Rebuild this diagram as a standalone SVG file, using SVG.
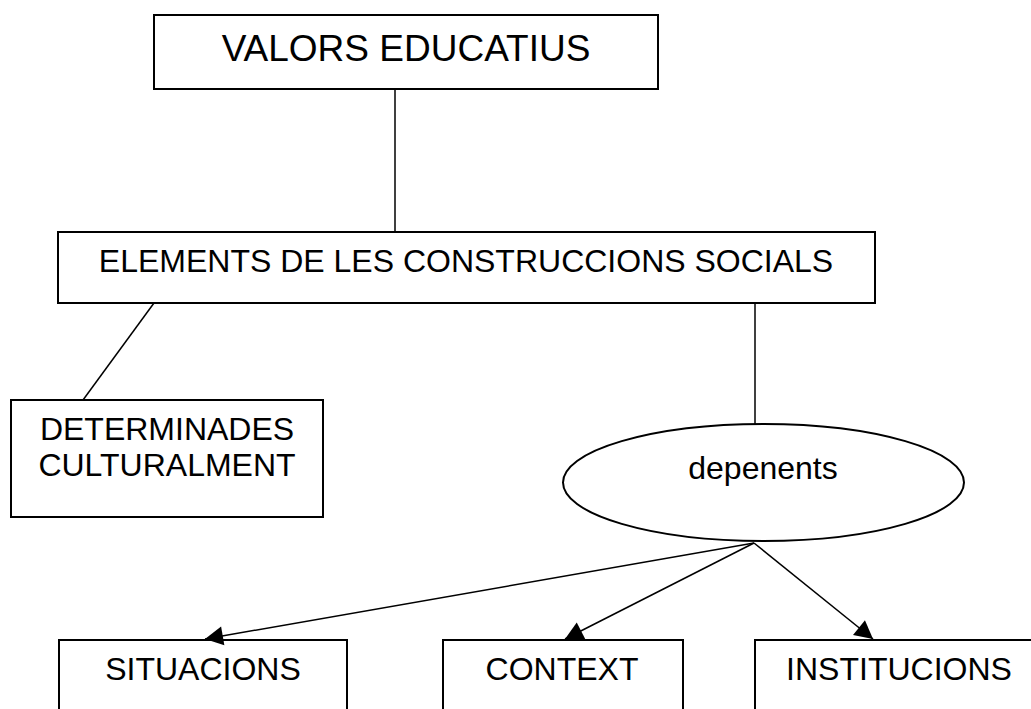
<svg xmlns="http://www.w3.org/2000/svg" width="1031" height="709" viewBox="0 0 1031 709">
<style>
.box{fill:#fff;stroke:#000;stroke-width:2}
.t{font-family:"Liberation Sans",Arial,sans-serif;font-size:32px;fill:#000;text-anchor:middle}
.c{stroke:#000;stroke-width:1.5;fill:none}
</style>
<defs>
<marker id="ah" markerUnits="userSpaceOnUse" markerWidth="20" markerHeight="20" refX="18" refY="10" orient="auto" overflow="visible">
<path d="M0,0.5 L18,10 L0,19.5 z" fill="#000"/>
</marker>
</defs>
<rect width="1031" height="709" fill="#fff"/>
<g id="valors">
<rect class="box" x="154" y="15" width="504" height="74"/>
<text class="t" x="406" y="61" style="font-size:37px">VALORS EDUCATIUS</text>
</g>
<g id="elements">
<rect class="box" x="58" y="232" width="817" height="71"/>
<text class="t" x="466" y="272">ELEMENTS DE LES CONSTRUCCIONS SOCIALS</text>
</g>
<g id="determinades">
<rect class="box" x="11" y="400" width="312" height="117"/>
<text class="t" x="167" y="440">DETERMINADES</text>
<text class="t" x="167" y="476">CULTURALMENT</text>
</g>
<g id="depenents">
<ellipse class="box" cx="763.5" cy="482.5" rx="200.5" ry="58.5"/>
<text class="t" x="763" y="479">depenents</text>
</g>
<g id="situacions">
<rect class="box" x="59" y="640" width="288" height="90"/>
<text class="t" x="203" y="680">SITUACIONS</text>
</g>
<g id="context">
<rect class="box" x="443" y="640" width="240" height="90"/>
<text class="t" x="562" y="680">CONTEXT</text>
</g>
<g id="institucions">
<rect class="box" x="755" y="640" width="290" height="90"/>
<text class="t" x="899" y="680">INSTITUCIONS</text>
</g>
<g id="connectors">
<line class="c" x1="395" y1="89" x2="395" y2="232"/>
<line class="c" x1="154" y1="303" x2="83" y2="400"/>
<line class="c" x1="755" y1="303" x2="755" y2="424"/>
<line class="c" x1="754" y1="543" x2="205" y2="639" marker-end="url(#ah)"/>
<line class="c" x1="754" y1="543" x2="565" y2="639" marker-end="url(#ah)"/>
<line class="c" x1="754" y1="543" x2="873" y2="639" marker-end="url(#ah)"/>
</g>
</svg>
